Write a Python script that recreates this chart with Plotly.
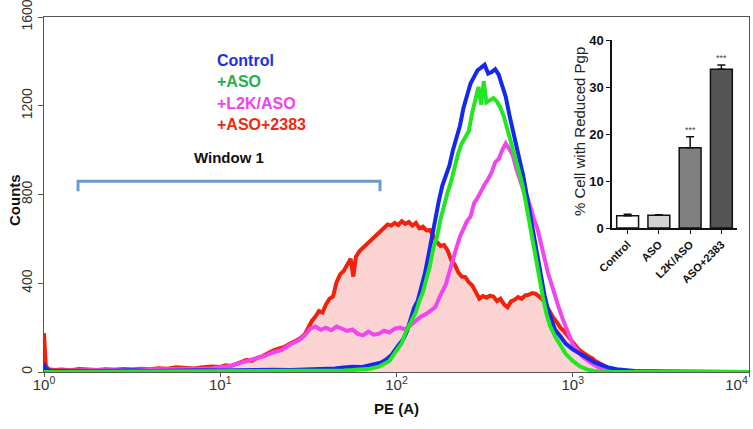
import math
import plotly.graph_objects as go

# ---------------- data (log10 of PE channel, counts) ----------------
red_log = [0.000, 0.004, 0.010, 0.025, 0.06, 0.10, 0.15, 0.20, 0.25, 0.30, 0.35, 0.40, 0.45, 0.50, 0.55, 0.60, 0.65,
           0.70, 0.75, 0.80, 0.85, 0.90, 0.95, 1.00, 1.03, 1.06, 1.09, 1.12, 1.15, 1.18, 1.21, 1.24, 1.27, 1.30, 1.33,
           1.36, 1.39, 1.42, 1.45, 1.48, 1.50, 1.52, 1.54, 1.56, 1.58, 1.60, 1.62, 1.64, 1.66, 1.68, 1.70, 1.72, 1.74,
           1.755, 1.77, 1.79, 1.81, 1.83, 1.85, 1.87, 1.89, 1.91, 1.93, 1.95, 1.97, 1.99, 2.01, 2.03, 2.05, 2.07, 2.09,
           2.11, 2.13, 2.15, 2.17, 2.19, 2.21, 2.23, 2.25, 2.27, 2.29, 2.31, 2.33, 2.35, 2.37, 2.39, 2.41, 2.43, 2.45,
           2.47, 2.49, 2.51, 2.53, 2.55, 2.57, 2.59, 2.61, 2.63, 2.65, 2.67, 2.69, 2.71, 2.73, 2.75, 2.77, 2.79, 2.81,
           2.83, 2.85, 2.87, 2.89, 2.91, 2.93, 2.95, 2.97, 2.99, 3.01, 3.03, 3.05, 3.07, 3.09, 3.11, 3.13, 3.15, 3.17,
           3.19, 3.21, 3.24, 3.27, 3.32, 3.5, 4.0]
red_cnt = [175, 120, 30, 12, 9, 11, 8, 13, 10, 9, 12, 10, 14, 11, 15, 12, 17,
           15, 21, 18, 16, 22, 25, 23, 30, 27, 36, 42, 55, 50, 64, 72, 85, 96, 105,
           112, 125, 138, 150, 170, 205, 230, 250, 275, 268, 305, 330, 340, 405, 440, 455, 485, 510,
           430, 520, 545, 560, 575, 590, 600, 615, 630, 650, 665, 660, 672, 662, 680, 668, 676, 660,
           672, 648, 655, 638, 640, 612, 585, 568, 572, 548, 505, 485, 450, 430, 428, 405, 390, 360,
           330, 342, 335, 344, 340, 320, 330, 305, 292, 318, 325, 338, 330, 345, 348, 356, 352, 340,
           325, 300, 270, 245, 225, 200, 185, 165, 140, 118, 105, 92, 80, 70, 62, 48, 40, 30,
           22, 15, 8, 4, 2, 0, 0]

mag_log = [0.000, 0.006, 0.02, 0.10, 0.20, 0.30, 0.40, 0.50, 0.60, 0.70, 0.80, 0.90, 0.95, 1.00, 1.05, 1.10, 1.15,
           1.20, 1.25, 1.30, 1.35, 1.40, 1.45, 1.48, 1.51, 1.54, 1.57, 1.60, 1.63, 1.66, 1.69, 1.72, 1.75, 1.78, 1.81,
           1.84, 1.87, 1.90, 1.93, 1.96, 1.99, 2.02, 2.05, 2.08, 2.11, 2.14, 2.17, 2.20, 2.22, 2.24, 2.26, 2.28, 2.30,
           2.32, 2.34, 2.36, 2.38, 2.40, 2.42, 2.44, 2.46, 2.48, 2.50, 2.52, 2.54, 2.56, 2.58, 2.60, 2.62, 2.64, 2.66,
           2.68, 2.70, 2.72, 2.74, 2.76, 2.78, 2.80, 2.82, 2.84, 2.86, 2.88, 2.90, 2.92, 2.94, 2.96, 2.98, 3.00, 3.03,
           3.06, 3.10, 3.14, 3.18, 3.22, 3.30, 4.0]
mag_cnt = [20, 8, 6, 7, 6, 8, 9, 10, 9, 12, 13, 17, 16, 21, 26, 38, 48,
           58, 72, 88, 100, 125, 145, 165, 195, 205, 190, 200, 188, 205, 196, 185, 192, 172, 165,
           182, 168, 172, 186, 178, 195, 200, 192, 212, 228, 250, 262, 280, 292, 330, 360, 395, 450,
           510, 560, 610, 650, 680, 700, 760, 785, 820, 845, 870, 900, 945, 960, 1000, 1030, 1005, 975,
           915, 870, 820, 795, 735, 690, 645, 580, 505, 445, 395, 335, 292, 245, 205, 165, 125, 92,
           66, 42, 24, 12, 5, 0, 0]

ctl_log = [0.000, 0.005, 0.015, 0.04, 0.10, 0.20, 0.30, 0.40, 0.50, 0.60, 0.70, 0.80, 0.90, 1.00, 1.10, 1.20, 1.30,
           1.40, 1.50, 1.55, 1.60, 1.65, 1.70, 1.75, 1.80, 1.85, 1.88, 1.91, 1.94, 1.97, 2.00, 2.02, 2.04, 2.06, 2.08,
           2.10, 2.12, 2.14, 2.16, 2.18, 2.20, 2.22, 2.24, 2.26, 2.28, 2.30, 2.32, 2.34, 2.36, 2.38, 2.40, 2.42, 2.44,
           2.46, 2.48, 2.50, 2.52, 2.54, 2.56, 2.58, 2.60, 2.62, 2.64, 2.66, 2.68, 2.70, 2.72, 2.74, 2.76, 2.78, 2.80,
           2.82, 2.84, 2.86, 2.88, 2.90, 2.93, 2.96, 3.00, 3.04, 3.08, 3.12, 3.16, 3.20, 3.25, 3.30, 3.35, 3.45, 3.60,
           4.0]
ctl_cnt = [40, 22, 9, 6, 5, 7, 5, 6, 8, 5, 7, 6, 8, 7, 9, 8, 10,
           9, 10, 13, 12, 16, 20, 24, 22, 30, 36, 42, 55, 75, 108, 130, 150, 185, 240,
           290, 320, 380, 440, 520, 610, 690, 770, 840, 880, 930, 1000, 1060, 1110, 1190, 1245, 1300, 1330,
           1360, 1372, 1385, 1345, 1352, 1365, 1340, 1290, 1240, 1160, 1090, 1030, 965, 880, 790, 700, 610, 500,
           420, 345, 280, 235, 190, 160, 128, 102, 82, 60, 45, 32, 21, 13, 8, 5, 3, 2,
           0]

aso_log = [0.000, 0.50, 1.00, 1.50, 1.60, 1.70, 1.75, 1.80, 1.85, 1.90, 1.93, 1.96, 1.99, 2.01, 2.03, 2.05, 2.07,
           2.09, 2.11, 2.13, 2.15, 2.17, 2.19, 2.21, 2.23, 2.25, 2.27, 2.29, 2.31, 2.33, 2.35, 2.37, 2.39, 2.41, 2.43,
           2.45, 2.465, 2.48, 2.495, 2.51, 2.53, 2.55, 2.57, 2.59, 2.61, 2.63, 2.65, 2.67, 2.69, 2.71, 2.73, 2.75, 2.77,
           2.79, 2.81, 2.83, 2.85, 2.87, 2.90, 2.93, 2.96, 3.00, 3.04, 3.08, 3.12, 3.20, 4.0]
aso_cnt = [0, 1, 2, 3, 5, 7, 9, 11, 15, 24, 35, 50, 85, 105, 130, 175, 205,
           240, 270, 320, 360, 420, 480, 560, 610, 690, 760, 810, 860, 930, 985, 1030, 1060, 1085, 1170,
           1235, 1285, 1205, 1310, 1215, 1225, 1235, 1218, 1190, 1150, 1090, 1040, 980, 925, 860, 780, 690, 590,
           500, 420, 340, 265, 210, 160, 118, 82, 50, 26, 12, 5, 1, 0]

window_bounds = [1.56, 80.6]   # PE range of "Window 1" gate
window_level = 860

inset_cats = ["Control", "ASO", "L2K/ASO", "ASO+2383"]
inset_vals = [2.6, 2.7, 17.1, 33.8]
inset_err = [0.3, 0.1, 2.3, 0.9]
inset_sig = ["", "", "***", "***"]
inset_colors = ["#ffffff", "#d2d2d2", "#808080", "#555555"]

x_ticks = [1, 10, 100, 1000, 10000]
NB = "\u00a0"
x_ticktext = ["10<sup>0</sup>", "10<sup>1</sup>", "10<sup>2</sup>", "10<sup>3</sup>", "10<sup>4</sup>" + NB * 6]
y_ticks = [0, 400, 800, 1200, 1600]

legend_items = [("Control", "#1b2fe6"), ("+ASO", "#22b14c"), ("+L2K/ASO", "#ee44ee"), ("+ASO+2383", "#f2280c")]

RED = "#f2210c"
MAG = "#f046f0"
BLUE = "#1428f0"
GREEN = "#22e622"
FONT = "Liberation Sans"

def pe(logs):
    return [10 ** v for v in logs]

fig = go.Figure()
fig.add_trace(go.Scatter(x=pe(red_log), y=red_cnt, mode="lines", fill="tozeroy",
                         fillcolor="#fbd3d3", line=dict(color=RED, width=4), showlegend=False))
fig.add_trace(go.Scatter(x=pe(mag_log), y=mag_cnt, mode="lines", line=dict(color=MAG, width=4), showlegend=False))
fig.add_trace(go.Scatter(x=pe(ctl_log), y=ctl_cnt, mode="lines", line=dict(color=BLUE, width=4), showlegend=False))
fig.add_trace(go.Scatter(x=pe(aso_log), y=aso_cnt, mode="lines", line=dict(color=GREEN, width=4), showlegend=False))

# inset bar chart
fig.add_trace(go.Bar(x=inset_cats, y=inset_vals, xaxis="x2", yaxis="y2", width=0.7,
                     marker=dict(color=inset_colors, line=dict(color="#111111", width=1.5)),
                     error_y=dict(type="data", array=inset_err, arrayminus=[0] * 4, symmetric=False,
                                  color="#111111", thickness=1.5, width=4),
                     showlegend=False))

for c, v, e, s in zip(inset_cats, inset_vals, inset_err, inset_sig):
    if s:
        fig.add_annotation(x=c, y=v + e, xref="x2", yref="y2", text=s, showarrow=False,
                           yanchor="bottom", font=dict(size=9, color="#444444", family=FONT))

# Window 1 gate
wx0, wx1 = window_bounds
fig.add_shape(type="path", xref="x", yref="y",
              path=f"M {wx0},{window_level-45} L {wx0},{window_level} L {wx1},{window_level} L {wx1},{window_level-45}",
              line=dict(color="#6b9bd0", width=3))
fig.add_annotation(x=(math.log10(wx0) + math.log10(wx1)) / 2, y=window_level + 60, xref="x", yref="y",
                   text="<b>Window 1</b>", showarrow=False, yanchor="bottom", xanchor="center",
                   font=dict(size=15, color="#111111", family=FONT))

L, R, T, B = 44, 4, 17, 57
W, H = 753, 429
pw, ph = W - L - R, H - T - B

def px(x):
    return (x - L) / pw

def py(y):
    return (H - B - y) / ph

# legend text
for i, (name, col) in enumerate(legend_items):
    fig.add_annotation(x=px(215), y=py(61 + 21 * i), xref="paper", yref="paper", text=f"<b>{name}</b>",
                       showarrow=False, xanchor="left", yanchor="middle",
                       font=dict(size=16, color=col, family=FONT))

# axis titles
fig.add_annotation(x=px(14), y=py(200), text="<b>Counts</b>", textangle=-90, showarrow=False,
                   xanchor="center", yanchor="middle",
                   xref="paper", yref="paper", font=dict(size=15, color="#111111", family=FONT))
fig.add_annotation(x=px(397), y=py(408), text="<b>PE (A)</b>", showarrow=False,
                   xanchor="center", yanchor="middle",
                   xref="paper", yref="paper", font=dict(size=15, color="#111111", family=FONT))
fig.add_annotation(x=px(579), y=py(132), text="% Cell with Reduced Pgp", textangle=-90, showarrow=False,
                   xanchor="center", yanchor="middle",
                   xref="paper", yref="paper", font=dict(size=15, color="#222222", family=FONT))

fig.update_layout(
    width=W, height=H, margin=dict(l=L, r=R, t=T, b=B, autoexpand=False),
    paper_bgcolor="white", plot_bgcolor="white",
    font=dict(family=FONT, color="#222222"),
    xaxis=dict(type="log", range=[0, 4], tickvals=x_ticks, ticktext=x_ticktext, ticks="outside",
               ticklen=4, tickcolor="#555555", showgrid=False, zeroline=False, showline=True,
               linecolor="#555555", linewidth=1, mirror=True, tickfont=dict(size=15, color="#333333"),
               automargin=False, ticklabeloverflow="allow", ticklabelstandoff=-5),
    yaxis=dict(range=[0, 1600], tickvals=y_ticks, ticks="outside", ticklen=5, tickcolor="#555555",
               tickangle=-90, showgrid=False, zeroline=False, showline=True, linecolor="#555555",
               linewidth=1, mirror=True, tickfont=dict(size=14, color="#333333"),
               automargin=False, ticklabeloverflow="allow"),
    xaxis2=dict(domain=[px(612), px(737)], anchor="y2", range=[-0.5, 3.5],
                showline=True, linecolor="#111111", linewidth=1.5, ticks="outside", ticklen=4,
                tickcolor="#111111", tickangle=-45, showgrid=False, automargin=False,
                tickfont=dict(size=11, color="#111111", family=FONT),
                tickvals=inset_cats, ticktext=[f"<b>{c}</b>" for c in inset_cats]),
    yaxis2=dict(domain=[py(228), py(40)], anchor="x2", range=[0, 40],
                tickvals=[0, 10, 20, 30, 40], ticktext=["<b>0</b>", "<b>10</b>", "<b>20</b>", "<b>30</b>", "<b>40</b>"],
                showline=True, linecolor="#111111", linewidth=1.5, ticks="outside", ticklen=4,
                tickcolor="#111111", showgrid=False, zeroline=False, automargin=False,
                tickfont=dict(size=13, color="#111111", family=FONT)),
)

fig.write_html("out.html", config={"displayModeBar": False},
               post_script="document.body.style.margin='0';document.body.style.padding='0';"
                           "document.documentElement.style.overflow='hidden';")
